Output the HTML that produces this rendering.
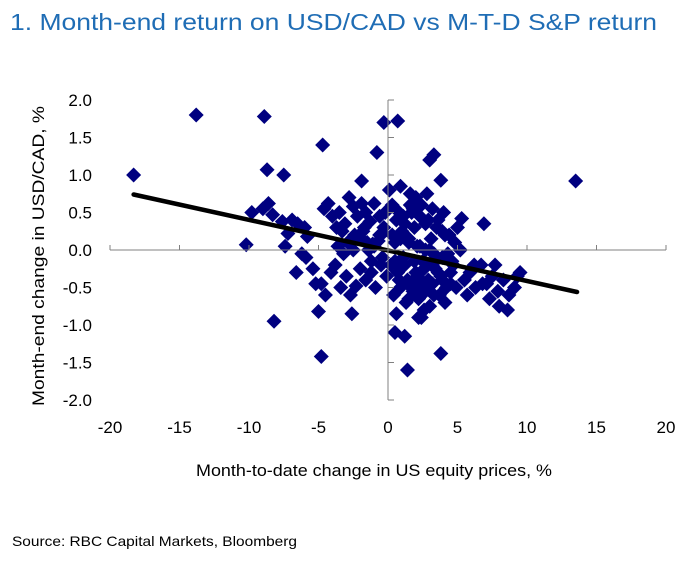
<!DOCTYPE html>
<html><head><meta charset="utf-8"><style>
body{margin:0;background:#fff;width:690px;height:557px;overflow:hidden;font-family:"Liberation Sans",sans-serif}
</style></head><body>
<svg id="chart" width="690" height="557" xmlns="http://www.w3.org/2000/svg">
<text x="10" y="30" font-size="23" fill="#1F6DB5" textLength="647" lengthAdjust="spacingAndGlyphs" font-family="Liberation Sans, sans-serif">1. Month-end return on USD/CAD vs M-T-D S&amp;P return</text>
<g id="marks"></g>
<g id="axes"></g>
<text x="374" y="476" font-size="17" text-anchor="middle" fill="#000" textLength="356" lengthAdjust="spacingAndGlyphs">Month-to-date change in US equity prices, %</text>
<text transform="translate(44,256) rotate(-90)" font-size="17" text-anchor="middle" fill="#000" textLength="300" lengthAdjust="spacingAndGlyphs">Month-end change in USD/CAD, %</text>
<text x="12" y="546" font-size="14" fill="#000" textLength="285" lengthAdjust="spacingAndGlyphs">Source: RBC Capital Markets, Bloomberg</text>
</svg>
<script>
const xTicks=[-20,-15,-10,-5,0,5,10,15,20];
const yTicks=[2.0,1.5,1.0,0.5,0.0,-0.5,-1.0,-1.5,-2.0];
const xs=[-18.3,-13.8,-8.9,-10.2,-8.7,-7.5,-4.7,-8.2,-4.8,-5.0,0.5,1.2,3.8,1.4,13.5,-0.3,0.7,-0.8,3.0,3.3,3.8,-1.9,
-9.8,-9.0,-8.6,-8.3,-7.6,-7.2,-6.9,-7.4,-6.5,-6.2,-6.6,-5.9,-5.4,-5.8,-6.0,-5.2,-4.6,-4.3,-4.0,-3.7,-3.5,-3.1,-2.8,-2.5,-2.2,-1.9,-1.6,-1.3,-1.0,-0.6,-0.2,
-4.8,-4.5,-4.1,-3.8,-3.4,-3.0,-2.7,-2.3,-2.0,-1.6,-1.2,-0.9,-0.5,-0.1,-3.6,-2.9,-2.1,-1.4,-0.7,-3.2,-2.4,-1.7,-1.1,-0.4,-2.6,-1.8,-1.0,
0.3,0.8,1.2,1.6,2.0,2.4,2.8,3.2,3.6,4.0,4.4,4.8,5.2,0.5,1.0,1.5,1.9,2.3,2.7,3.1,3.5,3.9,4.3,4.7,0.2,0.7,1.1,1.6,2.1,2.5,2.9,3.4,3.8,4.2,0.4,0.9,1.3,1.8,2.2,2.6,3.0,3.7,0.6,1.4,2.0,2.7,3.3,
5.5,5.9,6.3,6.7,7.1,7.5,7.9,8.3,8.7,9.1,9.5,5.7,6.2,6.8,7.3,8.0,8.6,9.3,6.0,4.6,5.0,5.3,4.9,4.5,6.9,7.7,2.2,2.6,1.8,3.0,0.9,0.1,1.5,2.4,3.6,4.1,
0.6,1.1,1.7,2.3,2.9,3.5,4.1,0.3,0.9,1.5,2.1,2.7,3.3,3.9,4.5,0.5,1.2,1.9,2.6,3.2,3.9,0.8,1.4,2.0,2.6,3.2,-0.3,-0.6,-1.5,-2.5,-3.3,-0.4,-1.2,2.1,1.6];
const ys=[1.0,1.8,1.78,0.07,1.07,1.0,1.4,-0.95,-1.42,-0.82,-1.1,-1.15,-1.38,-1.6,0.92,1.7,1.72,1.3,1.2,1.27,0.93,0.92,
0.5,0.55,0.62,0.47,0.38,0.22,0.4,0.05,0.35,-0.05,-0.3,-0.1,-0.25,0.18,0.3,-0.45,0.55,0.62,0.45,0.3,0.5,0.35,0.7,0.58,0.45,0.62,0.5,0.38,0.62,0.45,0.5,
-0.45,-0.6,-0.3,-0.2,-0.5,-0.35,-0.6,-0.48,-0.25,-0.4,-0.3,-0.5,-0.2,-0.35,0.05,0.1,0.18,0.0,0.12,-0.05,0.2,0.3,0.08,0.22,-0.85,0.25,0.05,
0.6,0.5,0.35,0.75,0.7,0.6,0.75,0.55,0.4,0.5,0.2,0.1,0.0,0.1,0.25,0.15,0.3,0.05,0.35,0.15,-0.1,0.25,-0.05,-0.2,-0.2,-0.3,-0.1,-0.45,-0.35,-0.15,-0.4,-0.25,-0.35,-0.5,-0.6,-0.5,-0.7,-0.55,-0.65,-0.45,-0.75,-0.6,-0.85,-0.4,-0.3,-0.55,-0.6,
-0.4,-0.3,-0.5,-0.2,-0.45,-0.35,-0.55,-0.4,-0.6,-0.5,-0.3,-0.6,-0.2,-0.45,-0.65,-0.75,-0.8,-0.35,-0.25,-0.15,0.3,0.42,-0.5,-0.45,0.35,-0.2,-0.9,-0.8,0.55,0.0,0.85,0.8,-0.65,-0.9,-0.3,-0.7,
0.4,0.45,0.5,0.45,0.4,0.3,0.2,0.2,0.15,0.1,0.05,0.0,-0.05,-0.1,-0.3,-0.15,-0.2,-0.15,-0.25,-0.2,-0.4,-0.4,-0.45,-0.5,-0.55,-0.45,0.3,0.2,0.1,0.0,0.25,-0.1,-0.15,0.55,0.6];
const X=v=>388+v*13.9, Y=v=>250-v*75;
const trendX=[-18.3,13.6], trendY=[0.74,-0.56];
const ns="http://www.w3.org/2000/svg";
const marks=document.getElementById('marks'), axes=document.getElementById('axes');
for(let i=0;i<xs.length;i++){
  const p=document.createElementNS(ns,'path');
  const cx=X(xs[i]), cy=Y(ys[i]);
  p.setAttribute('d',`M${cx} ${cy-7.5}L${cx+7.5} ${cy}L${cx} ${cy+7.5}L${cx-7.5} ${cy}Z`);
  p.setAttribute('fill','#000080');
  
  
  marks.appendChild(p);
}
const tl=document.createElementNS(ns,'line');
tl.setAttribute('x1',X(trendX[0]));tl.setAttribute('y1',Y(trendY[0]));
tl.setAttribute('x2',X(trendX[1]));tl.setAttribute('y2',Y(trendY[1]));
tl.setAttribute('stroke','#000');tl.setAttribute('stroke-width','4.5');tl.setAttribute('stroke-linecap','round');


marks.appendChild(tl);
function ln(x1,y1,x2,y2){const l=document.createElementNS(ns,'line');l.setAttribute('x1',x1);l.setAttribute('y1',y1);l.setAttribute('x2',x2);l.setAttribute('y2',y2);l.setAttribute('stroke','#808080');l.setAttribute('stroke-width','1');axes.appendChild(l);return l;}
const xa=ln(X(-20),250,X(20),250);


const ya=ln(388,Y(2),388,Y(-2));


xTicks.forEach(t=>{ln(X(t),250,X(t),245);
  const tx=document.createElementNS(ns,'text');tx.setAttribute('x',X(t));tx.setAttribute('y',433);tx.setAttribute('text-anchor','middle');tx.setAttribute('font-size','17');tx.textContent=t;
  
  
  axes.appendChild(tx);});
yTicks.forEach(t=>{ln(388,Y(t),394,Y(t));
  const tx=document.createElementNS(ns,'text');tx.setAttribute('x',92);tx.setAttribute('y',Y(t)+6);tx.setAttribute('text-anchor','end');tx.setAttribute('font-size','17');tx.textContent=t.toFixed(1);
  
  
  axes.appendChild(tx);});
</script>
</body></html>
